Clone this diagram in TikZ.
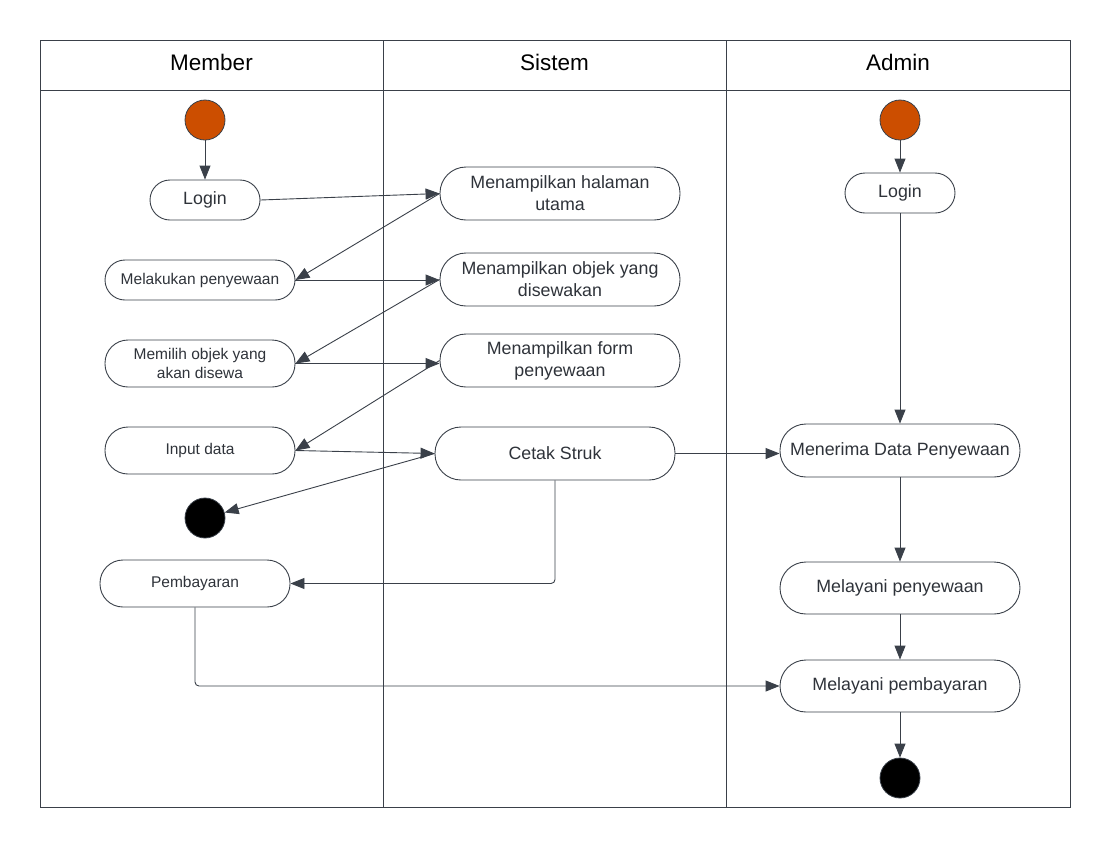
\documentclass[tikz,border=0pt]{standalone}
\usepackage{fontspec}
\setmainfont{Liberation Sans}
\usetikzlibrary{arrows.meta}
\definecolor{ln}{HTML}{3A4049}
\definecolor{tx}{HTML}{2F333A}
\definecolor{startc}{HTML}{CC4E00}
\tikzset{
  act/.style={draw=ln, line width=0.9pt, fill=white, text=tx, align=center, inner sep=0pt,
    minimum width=240pt, minimum height=53pt, rounded corners=26pt, font=\fontsize{17.8}{22}\selectfont},
  smallact/.style={act, minimum width=190pt, minimum height=47pt, rounded corners=23pt, font=\fontsize{15.5}{19}\selectfont},
  loginact/.style={act, minimum width=110pt, minimum height=40pt, rounded corners=20pt},
  startnode/.style={circle, draw=ln, line width=0.8pt, fill=startc, minimum size=40pt, inner sep=0pt},
  endnode/.style={circle, draw=ln, line width=0.8pt, fill=black, minimum size=40pt, inner sep=0pt},
  flow/.style={draw=ln, line width=0.9pt, -{Triangle[length=14pt,width=11pt]}},
  lane/.style={draw=ln, line width=0.9pt},
  hdr/.style={text=black, font=\fontsize{22.5}{27}\selectfont}
}
\begin{document}
\begin{tikzpicture}[x=1pt,y=-1pt]
\useasboundingbox (0,0) rectangle (1110,847);
% swimlanes
\draw[lane] (40,40) rectangle (1070,807);
\draw[lane] (40,90) -- (1070,90);
\draw[lane] (383,40) -- (383,807);
\draw[lane] (726,40) -- (726,807);
\node[hdr] (hm) at (211.5,62.5) {Member};
\node[hdr] (hs) at (554.5,62.5) {Sistem};
\node[hdr] (ha) at (898,62.5) {Admin};

% Member lane
\node[startnode] (s1) at (205,120) {};
\node[loginact] (login) at (205,200) {Login};
\node[smallact, minimum height=40pt, rounded corners=20pt] (lak) at (200,280) {Melakukan penyewaan};
\node[smallact] (pil) at (200,363.5) {Memilih objek yang\\akan disewa};
\node[smallact] (inp) at (200,450.5) {Input data};
\node[endnode] (e1) at (205,518) {};
\node[smallact] (bay) at (195,583.5) {Pembayaran};

% Sistem lane
\node[act] (hal) at (560,193.5) {Menampilkan halaman\\utama};
\node[act] (obj) at (560,279.5) {Menampilkan objek yang\\disewakan};
\node[act] (frm) at (560,360.5) {Menampilkan form\\penyewaan};
\node[act] (cet) at (555,453.5) {Cetak Struk};

% Admin lane
\node[startnode] (s2) at (900,120) {};
\node[loginact] (alog) at (900,193) {Login};
\node[act] (ter) at (900,450.5) {Menerima Data Penyewaan};
\node[act, minimum height=52pt] (lpw) at (900,588) {Melayani penyewaan};
\node[act, minimum height=52pt] (lpb) at (900,686) {Melayani pembayaran};
\node[endnode] (e2) at (900,778) {};

% flows
\draw[flow] (s1) -- (login);
\draw[flow] (login.east) -- (hal.west);
\draw[flow] (hal.west) -- (lak.east);
\draw[flow] (lak.east) -- (lak.east -| obj.west);
\draw[flow] (obj.west) -- (pil.east);
\draw[flow] (pil.east) -- (pil.east -| frm.west);
\draw[flow] (frm.west) -- (inp.east);
\draw[flow] (inp.east) -- (cet.west);
\draw[flow] (cet.west) -- (e1);
\draw[flow, rounded corners=4pt] (cet.south) |- (bay.east);
\draw[flow, rounded corners=4pt] (bay.south) |- (lpb.west);
\draw[flow] (cet.east) -- (cet.east -| ter.west);
\draw[flow] (s2) -- (alog);
\draw[flow] (alog) -- (ter);
\draw[flow] (ter) -- (lpw);
\draw[flow] (lpw) -- (lpb);
\draw[flow] (lpb) -- (e2);
\end{tikzpicture}
\end{document}
